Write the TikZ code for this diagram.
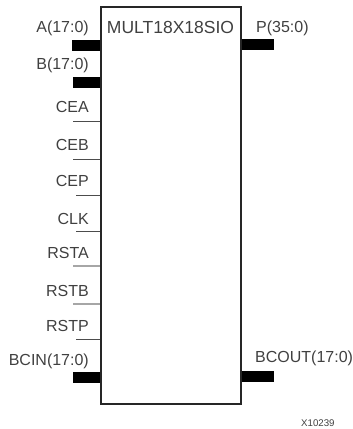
\documentclass[tikz,border=0pt]{standalone}
\usepackage{fontspec}
\setmainfont{Liberation Sans}
\usetikzlibrary{positioning,calc}

\begin{document}
\begin{tikzpicture}[
    x=1pt, y=-1pt,
    blk/.style={draw=black!85, line width=1.3pt, minimum width=140pt, minimum height=397pt, inner sep=0pt},
    bus/.style={line width=11pt},
    sig/.style={draw=black!70, line width=0.9pt},
    rstsig/.style={draw=black!35, line width=1.5pt},
    lbl/.style={font=\fontsize{16}{16}\selectfont, text=black!75, inner sep=0pt},
    pinl/.style={lbl, anchor=base east},
    pinr/.style={lbl, anchor=base west}
]
\useasboundingbox (0,0) rectangle (353,429);
\node[blk] (mult) at (171,205.5) {};
\node[lbl, anchor=base, font=\fontsize{17.5}{17.5}\selectfont] (title) at (170.5,33) {MULT18X18SIO};

% left side
\node[pinl] (la) at (89,32) {A(17:0)};
\node[pinl] (lb) at (89,69) {B(17:0)};
\node[pinl] (lcea) at (89,112) {CEA};
\node[pinl] (lceb) at (89,150) {CEB};
\node[pinl] (lcep) at (89,186) {CEP};
\node[pinl] (lclk) at (89,224) {CLK};
\node[pinl] (lrsta) at (89,258) {RSTA};
\node[pinl] (lrstb) at (89,296) {RSTB};
\node[pinl] (lrstp) at (89,331) {RSTP};
\node[pinl] (lbcin) at (89,365) {BCIN(17:0)};

\coordinate (a) at (72,45);
\coordinate (b) at (73,82);
\coordinate (cea) at (73,121);
\coordinate (ceb) at (73,159);
\coordinate (cep) at (76,195);
\coordinate (clk) at (76,231);
\coordinate (rsta) at (73,266);
\coordinate (rstb) at (73,304);
\coordinate (rstp) at (76,339);
\coordinate (bcin) at (73,377);

\draw[bus] (a) -- (a -| mult.west);
\draw[bus] (b) -- (b -| mult.west);
\draw[sig] (cea) -- (cea -| mult.west);
\draw[sig] (ceb) -- (ceb -| mult.west);
\draw[sig] (cep) -- (cep -| mult.west);
\draw[sig] (clk) -- (clk -| mult.west);
\draw[rstsig] (rsta) -- (rsta -| mult.west);
\draw[rstsig] (rstb) -- (rstb -| mult.west);
\draw[sig] (rstp) -- (rstp -| mult.west);
\draw[bus] (bcin) -- (bcin -| mult.west);

% right side
\node[pinr] (lp) at (256,32) {P(35:0)};
\node[pinr] (lbcout) at (255,362) {BCOUT(17:0)};

\coordinate (p) at (274,44);
\coordinate (bcout) at (274,376);

\draw[bus] (mult.east |- p) -- (p);
\draw[bus] (mult.east |- bcout) -- (bcout);

\node[anchor=base west, inner sep=0pt, text=black!75, font=\fontsize{9.7}{10}\selectfont] (partno) at (301,426) {X10239};
\end{tikzpicture}
\end{document}
